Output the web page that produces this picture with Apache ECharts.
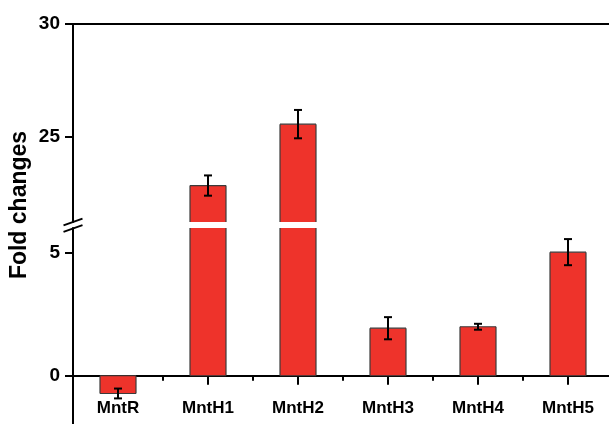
<!DOCTYPE html>
<html>
<head>
<meta charset="utf-8">
<script src="https://cdn.jsdelivr.net/npm/echarts@6/dist/echarts.min.js"></script>
<style>
  html, body { margin: 0; padding: 0; background: #fff; }
  #chart { width: 609px; height: 424px; }
</style>
</head>
<body>
<div id="chart"></div>
<script>
// Relative expression of the Mnt genes (mean ± error)
const categories = ['MntR', 'MntH1', 'MntH2', 'MntH3', 'MntH4', 'MntH5'];
const foldChange = [-0.72, 22.82, 25.55, 1.93, 1.99, 5.02];
const foldError  = [0.20, 0.45, 0.63, 0.45, 0.12, 0.53];

// Broken value axis: an upper and a lower segment
const upperRange = [21.2, 30];
const lowerRange = [-2, 6];
const upperTicks = [25, 30];
const upperMinorTicks = [22.5, 27.5];
const lowerTicks = [0, 5];
const lowerMinorTicks = [2.5];
const axisTitle = 'Fold changes';

const FONT = "'Liberation Sans', Arial, sans-serif";
const BAR_FILL = '#ee332b';
const BAR_EDGE = '#3b3b3b';
const INK = '#000';

const plotLeft = 73;
const plotWidth = 540;
const upperTop = 24, upperHeight = 198;
const lowerTop = 228, lowerHeight = 197;
// height of the lower segment above the zero line (carries the category axis)
const zeroHeight = lowerHeight * (lowerRange[1] - 0) / (lowerRange[1] - lowerRange[0]);

const rows = categories.map((c, i) => [i, foldChange[i], foldError[i]]);

// Bars drawn clipped to each segment; edges cut by the break get no outline
function renderBar(params, api) {
  const i = api.value(0), v = api.value(1);
  const cs = params.coordSys;
  const pTop = api.coord([i, v]);
  const pBase = api.coord([i, 0]);
  const w = api.size([1, 0])[0] * 0.4;
  const x0 = pTop[0] - w / 2, x1 = pTop[0] + w / 2;
  let yA = Math.min(pTop[1], pBase[1]), yB = Math.max(pTop[1], pBase[1]);
  const cA = Math.max(yA, cs.y), cB = Math.min(yB, cs.y + cs.height);
  if (cB <= cA) return null;
  const children = [{
    type: 'rect',
    shape: { x: x0, y: cA, width: w, height: cB - cA },
    style: { fill: BAR_FILL }
  }];
  const line = (ax, ay, bx, by) => ({
    type: 'line',
    shape: { x1: ax, y1: ay, x2: bx, y2: by },
    style: { stroke: BAR_EDGE, lineWidth: 1.2 }
  });
  children.push(line(x0, cA, x0, cB), line(x1, cA, x1, cB));
  if (cA === yA) children.push(line(x0, cA, x1, cA));
  if (cB === yB) children.push(line(x0, cB, x1, cB));
  return { type: 'group', children };
}

function renderError(params, api) {
  const i = api.value(0), v = api.value(1), e = api.value(2);
  const cs = params.coordSys;
  const mid = api.coord([i, v]);
  if (mid[1] < cs.y || mid[1] > cs.y + cs.height) return null;
  const hi = api.coord([i, v + e]);
  const lo = api.coord([i, v - e]);
  const cap = 4;
  const st = { stroke: INK, lineWidth: 2 };
  return {
    type: 'group',
    children: [
      { type: 'line', shape: { x1: mid[0], y1: hi[1], x2: mid[0], y2: lo[1] }, style: st },
      { type: 'line', shape: { x1: mid[0] - cap, y1: hi[1], x2: mid[0] + cap, y2: hi[1] }, style: st },
      { type: 'line', shape: { x1: mid[0] - cap, y1: lo[1], x2: mid[0] + cap, y2: lo[1] }, style: st }
    ]
  };
}

const tickLabel = { color: INK, fontFamily: FONT, fontWeight: 'bold', fontSize: 19 };

function valueAxis(grid, range, ticks, minor) {
  return [{
    type: 'value', gridIndex: grid, min: range[0], max: range[1],
    axisLine: { show: true, onZero: false, lineStyle: { color: INK, width: 2 } },
    axisTick: { show: true, customValues: ticks, length: 8, lineStyle: { color: INK, width: 2 } },
    axisLabel: { show: true, customValues: ticks, margin: 13, ...tickLabel },
    splitLine: { show: false }
  }, {
    type: 'value', gridIndex: grid, min: range[0], max: range[1],
    axisLine: { show: false, onZero: false },
    axisTick: { show: true, customValues: minor, length: 5, lineStyle: { color: INK, width: 2 } },
    axisLabel: { show: false },
    splitLine: { show: false }
  }];
}

const hiddenCategory = (grid, pos) => ({
  type: 'category', gridIndex: grid, data: categories, position: pos,
  axisLine: { show: false, onZero: false }, axisTick: { show: false },
  axisLabel: { show: false }, splitLine: { show: false }
});

const chart = echarts.init(document.getElementById('chart'), null, { renderer: 'canvas' });

const breakY = (upperTop + upperHeight + lowerTop) / 2;

chart.setOption({
  animation: false,
  backgroundColor: '#fff',
  grid: [
    { left: plotLeft, top: upperTop, width: plotWidth, height: upperHeight, containLabel: false, outerBoundsMode: 'none' },
    { left: plotLeft, top: lowerTop, width: plotWidth, height: lowerHeight, containLabel: false, outerBoundsMode: 'none' },
    { left: plotLeft, top: lowerTop, width: plotWidth, height: zeroHeight, containLabel: false, outerBoundsMode: 'none' }
  ],
  xAxis: [
    {
      type: 'category', gridIndex: 0, data: categories, position: 'top',
      axisLine: { show: true, onZero: false, lineStyle: { color: INK, width: 2 } },
      axisTick: { show: false }, axisLabel: { show: false }, splitLine: { show: false }
    },
    hiddenCategory(1, 'bottom'),
    {
      type: 'category', gridIndex: 2, data: categories, position: 'bottom',
      axisLine: { show: true, onZero: false, lineStyle: { color: INK, width: 2 } },
      axisTick: { show: true, alignWithLabel: true, length: 9, lineStyle: { color: INK, width: 2 } },
      axisLabel: {
        show: true, interval: 0, margin: 24,
        color: INK, fontFamily: FONT, fontWeight: 'bold', fontSize: 17
      },
      splitLine: { show: false }
    },
    {
      type: 'category', gridIndex: 2, data: categories, position: 'bottom',
      axisLine: { show: false, onZero: false },
      axisTick: { show: true, length: 5, lineStyle: { color: INK, width: 2 } },
      axisLabel: { show: false }, splitLine: { show: false }
    }
  ],
  yAxis: [
    ...valueAxis(0, upperRange, upperTicks, upperMinorTicks),
    ...valueAxis(1, lowerRange, lowerTicks, lowerMinorTicks),
    { type: 'value', gridIndex: 2, min: 0, max: lowerRange[1], show: false }
  ],
  series: [
    { type: 'custom', xAxisIndex: 0, yAxisIndex: 0, data: rows, renderItem: renderBar, z: 3, clip: false },
    { type: 'custom', xAxisIndex: 1, yAxisIndex: 2, data: rows, renderItem: renderBar, z: 3, clip: false },
    { type: 'custom', xAxisIndex: 0, yAxisIndex: 0, data: rows, renderItem: renderError, z: 4, clip: false },
    { type: 'custom', xAxisIndex: 1, yAxisIndex: 2, data: rows, renderItem: renderError, z: 4, clip: false }
  ],
  graphic: [
    // axis break marks
    { type: 'line', shape: { x1: plotLeft - 9.5, y1: breakY - 3 + 3.4, x2: plotLeft + 9.5, y2: breakY - 3 - 3.4 },
      style: { stroke: INK, lineWidth: 2 }, z: 10 },
    { type: 'line', shape: { x1: plotLeft - 9.5, y1: breakY + 3.5 + 3.4, x2: plotLeft + 9.5, y2: breakY + 3.5 - 3.4 },
      style: { stroke: INK, lineWidth: 2 }, z: 10 },
    // value axis title
    { type: 'text', x: 20, y: 205, rotation: Math.PI / 2,
      style: { text: axisTitle, fill: INK, font: 'bold 23px ' + FONT, textAlign: 'center', textVerticalAlign: 'middle' }, z: 10 }
  ]
});
</script>
</body>
</html>
